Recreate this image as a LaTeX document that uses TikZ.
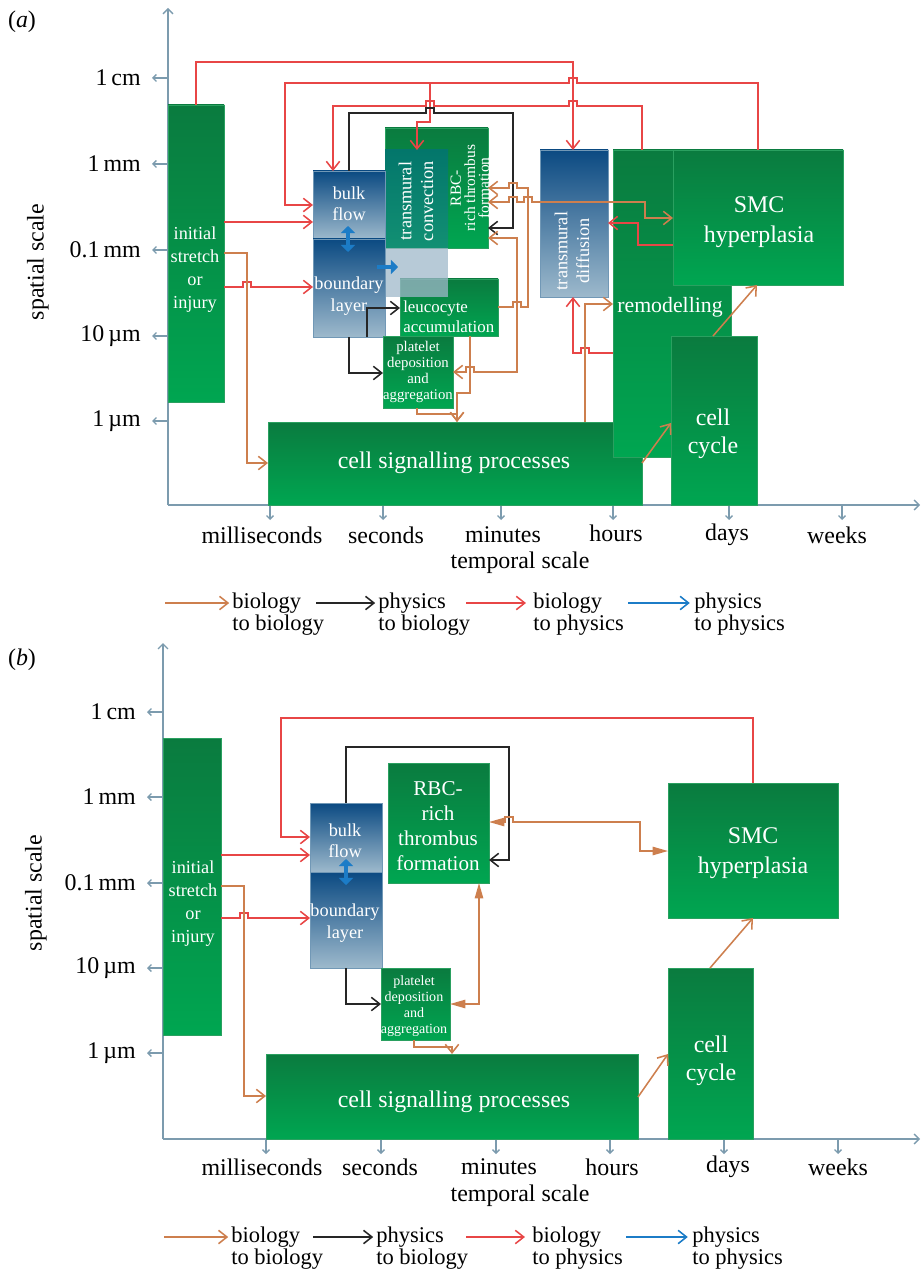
\documentclass[tikz,border=0pt]{standalone}
\usepackage{fontspec}
\setmainfont{Liberation Serif}
\usetikzlibrary{arrows.meta,fit}

\definecolor{grTop}{HTML}{0A7B3F}
\definecolor{grBot}{HTML}{00A651}
\definecolor{grEdge}{HTML}{2AA060}
\definecolor{blTop}{HTML}{0B4A82}
\definecolor{blBot}{HTML}{9DB9CC}
\definecolor{tlTop}{HTML}{03766B}
\definecolor{tlBot}{HTML}{129073}
\definecolor{paleC}{HTML}{9FB8CA}
\definecolor{bioC}{HTML}{CD7F4E}
\definecolor{phyC}{HTML}{262626}
\definecolor{redC}{HTML}{E84646}
\definecolor{bluC}{HTML}{1C7CC7}
\definecolor{axC}{HTML}{7C9BAE}

\newcommand{\fsz}[2]{\fontsize{#1}{#2}\selectfont}
\newcommand{\hopR}[2]{-- ({#1-4},#2) -- ({#1-4},{#2-5}) -- ({#1+4},{#2-5}) -- ({#1+4},#2)}
\newcommand{\hopL}[2]{-- ({#1+4},#2) -- ({#1+4},{#2-5}) -- ({#1-4},{#2-5}) -- ({#1-4},#2)}

\tikzset{
  gbox/.style={inner sep=0pt, outer sep=0pt, top color=grTop, bottom color=grBot, draw=grEdge, line width=0.3pt},
  bbox/.style={inner sep=0pt, outer sep=0pt, top color=blTop, bottom color=blBot, draw=blBot!70!blTop, line width=0.3pt},
  tbox/.style={inner sep=0pt, outer sep=0pt, top color=tlTop, bottom color=tlBot},
  wtext/.style={text=white, align=center, inner sep=0pt},
  lab/.style={font=\fsz{17}{20}, inner sep=0pt},
  legtxt/.style={font=\fsz{16}{15.6}, align=left, anchor=west, inner sep=0pt},
  axtip/.style={draw=axC, line width=1pt, -{Straight Barb[length=3.5pt,width=7pt]}},
  tick/.style={draw=axC, line width=0.9pt, -{Straight Barb[length=2.5pt,width=5pt]}},
  conn/.style={line width=1.1pt, -{Straight Barb[length=6pt,width=9.5pt]}},
  both/.style={{Straight Barb[length=6pt,width=9.5pt]}-{Straight Barb[length=6pt,width=9.5pt]}},
  bb/.style={conn, draw=bioC},
  pb/.style={conn, draw=phyC},
  bp/.style={conn, draw=redC},
  pp/.style={conn, draw=bluC},
  bbtri/.style={draw=bioC, line width=1.1pt, {Triangle[length=11pt,width=6pt]}-{Triangle[length=11pt,width=6pt]}},
  ppbig/.style={draw=bluC, line width=3pt, {Triangle[length=5pt,width=10pt]}-{Triangle[length=5pt,width=10pt]}},
  ppone/.style={draw=bluC, line width=3pt, -{Triangle[length=5pt,width=10pt]}}
}

\begin{document}
\begin{tikzpicture}[x=0.025cm, y=-0.025cm]

\useasboundingbox (0,0) rectangle (924,1273) ;

\node[lab] (tagA) at (22,22) {(\textit{a})} ;
\node[lab, rotate=90] (spaceA) at (38,262) {spatial scale} ;
\node[lab] (timeA) at (520,563) {temporal scale} ;

\draw[axtip] (168,505) to (168,8) ;
\draw[axtip] (168,505) to (920,505) ;

\draw[tick] (168,78) to (152,78) ;
\draw[tick] (168,164) to (152,164) ;
\draw[tick] (168,250) to (152,250) ;
\draw[tick] (168,336) to (152,336) ;
\draw[tick] (168,421) to (152,421) ;
\node[lab, anchor=east] (cmA) at (141,78) {1\,cm} ;
\node[lab, anchor=east] (mmA) at (141,164) {1\,mm} ;
\node[lab, anchor=east] (tmmA) at (141,250) {0.1\,mm} ;
\node[lab, anchor=east] (tumA) at (141,336) {10\,µm} ;
\node[lab, anchor=east] (umA) at (141,421) {1\,µm} ;

\draw[tick] (270,505) to (270,520) ;
\draw[tick] (383,505) to (383,520) ;
\draw[tick] (501,505) to (501,520) ;
\draw[tick] (613,505) to (613,520) ;
\draw[tick] (729,505) to (729,520) ;
\draw[tick] (842,505) to (842,520) ;
\node[lab] (msA) at (262,535) {milliseconds} ;
\node[lab] (secA) at (386,535) {seconds} ;
\node[lab] (minA) at (503,535) {minutes} ;
\node[lab] (hrA) at (616,533) {hours} ;
\node[lab] (dayA) at (727,535) {days} ;
\node[lab] (wkA) at (837,535) {weeks} ;

\node[gbox, fit={(168,105) (224,402)}] (initA) {} ;
\node[gbox, fit={(268,422) (642,505)}] (sigA) {} ;
\node[gbox, fit={(613,150) (731,457)}] (remA) {} ;
\node[gbox, fit={(673,150) (843,285)}] (smcA) {} ;
\node[gbox, fit={(671,336) (757,505)}] (cycA) {} ;
\node[bbox, fit={(540,150) (608,297)}] (difA) {} ;
\node[gbox, fit={(385,128) (488,248)}] (rbcA) {} ;
\node[gbox, fit={(400,279) (498,336)}] (leuA) {} ;
\node[tbox, fit={(385,150) (448,248)}] (conA) {} ;
\fill[paleC, fill opacity=0.75] (385,248) rectangle (448,297) ;
\node[bbox, fit={(313,171) (385,239)}] (bulkA) {} ;
\node[bbox, fit={(313,239) (385,337)}] (bndA) {} ;
\node[gbox, fit={(383,336) (453,408)}] (plaA) {} ;

\node[wtext, font=\fsz{13}{16.3}] (initAt) at (195,270) {initial\\stretch\\or\\injury} ;
\node[wtext, font=\fsz{17}{20}] (sigAt) at (454,463) {cell signalling processes} ;
\node[wtext, font=\fsz{15.5}{18}] (remAt) at (670,307) {remodelling} ;
\node[wtext, font=\fsz{17}{21}] (smcAt) at (759,222) {SMC\\hyperplasia} ;
\node[wtext, font=\fsz{17}{20}] (cycAt) at (713,434) {cell\\cycle} ;
\node[wtext, font=\fsz{13}{15.5}, rotate=90] (difAt) at (572,251) {transmural\\diffusion} ;
\node[wtext, font=\fsz{11}{10}, rotate=90] (rbcAt) at (470,188) {RBC-\\rich thrombus\\formation} ;
\node[wtext, font=\fsz{13}{15.5}, rotate=90] (conAt) at (416,201) {transmural\\convection} ;
\node[wtext, font=\fsz{12}{14}, align=left, anchor=west] (leuAt) at (403,317) {leucocyte\\accumulation} ;
\node[wtext, font=\fsz{13}{15}] (bulkAt) at (349,204) {bulk\\flow} ;
\node[wtext, font=\fsz{13}{16}] (bndAt) at (349,296) {boundary\\layer} ;
\node[wtext, font=\fsz{10.5}{11.3}] (plaAt) at (418,372) {platelet\\deposition\\and\\aggregation} ;

\coordinate (splitA) at (430,83) ;
\draw[bp] (initA.north) |- (573,62) -- (difA.north -| 573,0) ;
\draw[bp] (smcA.north -| 758,0) -- (758,83) \hopL{573}{83} -- (285,83) |- (bulkA.west |- 0,205) ;
\draw[bp] (splitA) -- (430,122) -| (conA.north -| 417,0) ;
\draw[bp] (remA.north -| 642,0) -- (642,106) \hopL{573}{106} \hopL{430}{106} -- (333,106) -- (bulkA.north -| 333,0) ;
\draw[bp] (initA.east |- 0,222) to (bulkA.west |- 0,222) ;
\draw[bp] (initA.east |- 0,287) \hopR{247}{287} -- (bndA.west |- 0,287) ;
\draw[bp] (smcA.west |- 0,245) -| (638,223) -- (difA.east |- 0,223) ;
\draw[bp] (remA.west |- 0,353) \hopL{585}{353} -- (573,353) -- (difA.south -| 573,0) ;

\draw[pb] (bulkA.north -| 349,0) -- (349,113) \hopR{430}{113} -- (513,113) |- (rbcA.east |- 0,228) ;
\draw[pb] (bndA.south -| 367,0) |- (leuA.west |- 0,308) ;
\draw[pb] (bndA.south -| 349,0) |- (plaA.west |- 0,373) ;

\draw[bb] (initA.east |- 0,253) -| (247,463) -- (sigA.west |- 0,463) ;
\draw[bb] (sigA.north -| 585,0) |- (remA.west |- 0,304) ;
\draw[bb] (leuA.east |- 0,307) \hopR{517}{307} -- (528,307) -- (528,188) \hopL{513}{188} -- (rbcA.east |- 0,188) ;
\draw[bb, both] (rbcA.east |- 0,202) \hopR{513}{202} \hopR{528}{202} -- (645,202) |- (smcA.west |- 0,218) ;
\draw[bb, both] (rbcA.east |- 0,238) -| (517,372) \hopL{470}{372} -- (plaA.east |- 0,372) ;
\draw[bb] (leuA.south -| 470,0) -- (470,393) -| (sigA.north -| 457,0) ;
\draw[bb] (plaA.south -| 417,0) -- (417,414) -| (sigA.north -| 457,0) ;
\draw[bb] (sigA.east |- 0,463) to (cycA.west |- 0,423) ;
\draw[bb] (cycA.north -| 713,0) to (smcA.south -| 757,0) ;

\draw[ppbig] (bulkA.south -| 348,0) ++(0,-13) -- ++(0,26) ;
\draw[ppone] (bndA.east |- 0,267) ++(-8,0) -- ++(21,0) ;

\node[legtxt] (legBBa) at (232,614) {biology\\to biology} ;
\node[legtxt] (legPBa) at (378,614) {physics\\to biology} ;
\node[legtxt] (legBPa) at (533,614) {biology\\to physics} ;
\node[legtxt] (legPPa) at (694,614) {physics\\to physics} ;
\coordinate (legBBsa) at (165,603) ;
\coordinate (legPBsa) at (316,603) ;
\coordinate (legBPsa) at (466,603) ;
\coordinate (legPPsa) at (628,603) ;
\draw[bb] (legBBsa) to ([xshift=-2pt]legBBa.west |- legBBsa) ;
\draw[pb] (legPBsa) to ([xshift=-2pt]legPBa.west |- legPBsa) ;
\draw[bp] (legBPsa) to ([xshift=-5pt]legBPa.west |- legBPsa) ;
\draw[pp] (legPPsa) to ([xshift=-3pt]legPPa.west |- legPPsa) ;

\node[lab] (tagB) at (22,660) {(\textit{b})} ;
\node[lab, rotate=90] (spaceB) at (36,893) {spatial scale} ;
\node[lab] (timeB) at (520,1196) {temporal scale} ;

\draw[axtip] (163,1139) to (163,643) ;
\draw[axtip] (163,1139) to (920,1139) ;

\draw[tick] (163,712) to (147,712) ;
\draw[tick] (163,797) to (147,797) ;
\draw[tick] (163,883) to (147,883) ;
\draw[tick] (163,968) to (147,968) ;
\draw[tick] (163,1053) to (147,1053) ;
\node[lab, anchor=east] (cmB) at (136,712) {1\,cm} ;
\node[lab, anchor=east] (mmB) at (136,797) {1\,mm} ;
\node[lab, anchor=east] (tmmB) at (136,883) {0.1\,mm} ;
\node[lab, anchor=east] (tumB) at (136,968) {10\,µm} ;
\node[lab, anchor=east] (umB) at (136,1053) {1\,µm} ;

\draw[tick] (266,1139) to (266,1154) ;
\draw[tick] (381,1139) to (381,1154) ;
\draw[tick] (496,1139) to (496,1154) ;
\draw[tick] (610,1139) to (610,1154) ;
\draw[tick] (724,1139) to (724,1154) ;
\draw[tick] (838,1139) to (838,1154) ;
\node[lab] (msB) at (262,1167) {milliseconds} ;
\node[lab] (secB) at (380,1167) {seconds} ;
\node[lab] (minB) at (499,1167) {minutes} ;
\node[lab] (hrB) at (612,1167) {hours} ;
\node[lab] (dayB) at (728,1167) {days} ;
\node[lab] (wkB) at (838,1167) {weeks} ;

\node[gbox, fit={(163,738) (221,1035)}] (initB) {} ;
\node[gbox, fit={(266,1054) (638,1139)}] (sigB) {} ;
\node[gbox, fit={(668,968) (753,1139)}] (cycB) {} ;
\node[gbox, fit={(668,783) (838,918)}] (smcB) {} ;
\node[gbox, fit={(388,763) (489,883)}] (rbcB) {} ;
\node[bbox, fit={(310,803) (382,872)}] (bulkB) {} ;
\node[bbox, fit={(310,872) (382,968)}] (bndB) {} ;
\node[gbox, fit={(381,968) (450,1040)}] (plaB) {} ;

\node[wtext, font=\fsz{13}{16.3}] (initBt) at (193,904) {initial\\stretch\\or\\injury} ;
\node[wtext, font=\fsz{17}{20}] (sigBt) at (454,1102) {cell signalling processes} ;
\node[wtext, font=\fsz{17}{20}] (cycBt) at (711,1061) {cell\\cycle} ;
\node[wtext, font=\fsz{17}{21}] (smcBt) at (753,853) {SMC\\hyperplasia} ;
\node[wtext, font=\fsz{15}{17.7}] (rbcBt) at (438,826) {RBC-\\rich\\thrombus\\formation} ;
\node[wtext, font=\fsz{13}{15}] (bulkBt) at (345,841) {bulk\\flow} ;
\node[wtext, font=\fsz{13}{16}] (bndBt) at (345,923) {boundary\\layer} ;
\node[wtext, font=\fsz{10}{11.3}] (plaBt) at (414,1006) {platelet\\deposition\\and\\aggregation} ;

\draw[bp] (smcB.north -| 753,0) |- (281,718) |- (bulkB.west |- 0,837) ;
\draw[bp] (initB.east |- 0,855) to (bulkB.west |- 0,855) ;
\draw[bp] (initB.east |- 0,918) \hopR{244}{918} -- (bndB.west |- 0,918) ;

\draw[pb] (bulkB.north -| 346,0) |- (509,747) |- (rbcB.east |- 0,860) ;
\draw[pb] (bndB.south -| 346,0) |- (plaB.west |- 0,1004) ;

\draw[bb] (initB.east |- 0,886) -| (244,1096) -- (sigB.west |- 0,1096) ;
\draw[bbtri] (plaB.east |- 0,1004) -| (rbcB.south -| 479,0) ;
\draw[bbtri] (rbcB.east |- 0,822) \hopR{509}{822} -- (640,822) |- (smcB.west |- 0,851) ;
\draw[bb] (plaB.south -| 414,0) -- (414,1047) -| (sigB.north -| 452,0) ;
\draw[bb] (sigB.east |- 0,1097) to (cycB.west |- 0,1054) ;
\draw[bb] (cycB.north -| 710,0) to (smcB.south -| 753,0) ;

\draw[ppbig] (bulkB.south -| 346,0) ++(0,-13) -- ++(0,26) ;

\node[legtxt] (legBBb) at (231,1248) {biology\\to biology} ;
\node[legtxt] (legPBb) at (376,1248) {physics\\to biology} ;
\node[legtxt] (legBPb) at (532,1248) {biology\\to physics} ;
\node[legtxt] (legPPb) at (692,1248) {physics\\to physics} ;
\coordinate (legBBsb) at (164,1237) ;
\coordinate (legPBsb) at (313,1237) ;
\coordinate (legBPsb) at (466,1237) ;
\coordinate (legPPsb) at (626,1237) ;
\draw[bb] (legBBsb) to ([xshift=-2pt]legBBb.west |- legBBsb) ;
\draw[pb] (legPBsb) to ([xshift=-2pt]legPBb.west |- legPBsb) ;
\draw[bp] (legBPsb) to ([xshift=-5pt]legBPb.west |- legBPsb) ;
\draw[pp] (legPPsb) to ([xshift=-3pt]legPPb.west |- legPPsb) ;

\end{tikzpicture}
\end{document}
